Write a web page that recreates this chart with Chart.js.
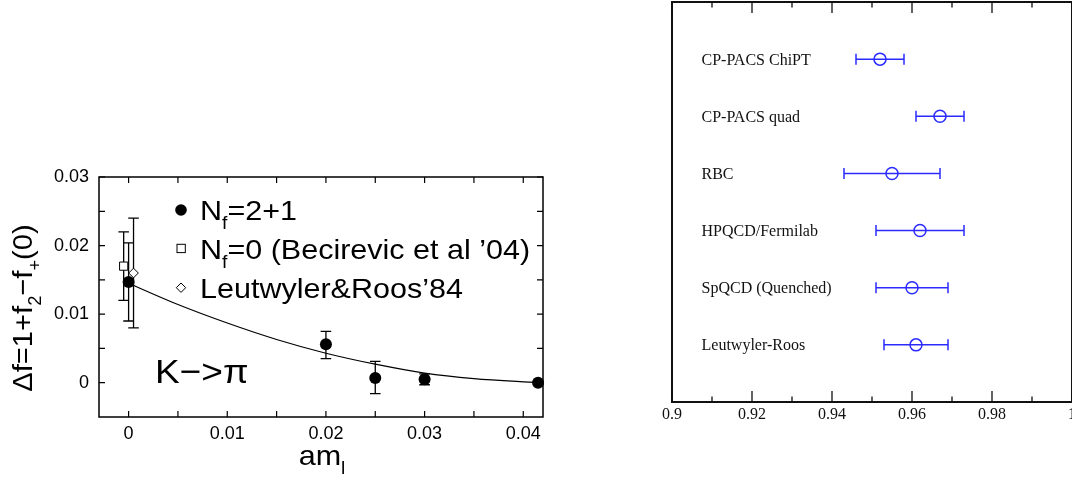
<!DOCTYPE html>
<html>
<head>
<meta charset="utf-8">
<script src="https://cdn.jsdelivr.net/npm/chart.js@4.4.0/dist/chart.umd.min.js"></script>
<style>
  html, body { margin: 0; padding: 0; background: #fff; overflow: hidden; width: 1072px; height: 478px; }
  #leftChart { position: absolute; left: 0; top: 0; }
  #rightChart { position: absolute; left: 620px; top: 0; }
</style>
</head>
<body>
<canvas id="leftChart" width="560" height="478"></canvas>
<canvas id="rightChart" width="480" height="478"></canvas>
<script>
// ---- left panel: K -> pi form factor vs light quark mass ----
const nf21X  = [0, 0.02, 0.025, 0.03, 0.0415];
const nf21Y  = [0.0147, 0.0056, 0.0007, 0.0005, 0.0];
const nf21Lo = [0.009, 0.0035, -0.0016, -0.0003, 0.0];
const nf21Hi = [0.0204, 0.0075, 0.0031, 0.0013, 0.0];

const nf0X  = [-0.0005];
const nf0Y  = [0.017];
const nf0Lo = [0.012];
const nf0Hi = [0.022];

const lrX  = [0.0005];
const lrY  = [0.016];
const lrLo = [0.008];
const lrHi = [0.024];

// fit curve
const fitX = [0, 0.005, 0.01, 0.015, 0.02, 0.025, 0.03, 0.035, 0.0415];
const fitY = [0.0145, 0.0114, 0.0087, 0.0063, 0.0043, 0.0027, 0.0014, 0.0006, 0.0];

const leftXTicks  = [0, 0.01, 0.02, 0.03, 0.04];
const leftXLabels = ['0', '0.01', '0.02', '0.03', '0.04'];
const leftXMinor  = [0.005, 0.015, 0.025, 0.035];
const leftYTicks  = [0, 0.01, 0.02, 0.03];
const leftYLabels = ['0', '0.01', '0.02', '0.03'];
const leftYMinor  = [0.005, 0.015, 0.025];

// ---- right panel: f+(0) results ----
const groups = ['CP-PACS ChiPT', 'CP-PACS quad', 'RBC', 'HPQCD/Fermilab', 'SpQCD (Quenched)', 'Leutwyler-Roos'];
const centralVal = [0.952, 0.967, 0.955, 0.962, 0.960, 0.961];
const lowVal     = [0.946, 0.961, 0.943, 0.951, 0.951, 0.953];
const highVal    = [0.958, 0.973, 0.967, 0.973, 0.969, 0.969];
const rowPos     = [6, 5, 4, 3, 2, 1];

const rightXTicks  = [0.9, 0.92, 0.94, 0.96, 0.98, 1.0];
const rightXLabels = ['0.9', '0.92', '0.94', '0.96', '0.98', '1'];
const rightXMinor  = [0.91, 0.93, 0.95, 0.97, 0.99];

const SANS = "'Liberation Sans', Arial, sans-serif";
const SERIF = "'Liberation Serif', 'Times New Roman', serif";
const BLUE = '#2b2bff';

// text with subscripts, parts = [[text, 'sub'?], ...]
function drawRich(ctx, parts, x, y, size, opt) {
    opt = opt || {};
    ctx.save();
    ctx.translate(x, y);
    if (opt.rot) ctx.rotate(opt.rot);
    ctx.scale(opt.sx || 1, 1);
    ctx.textAlign = 'left';
    ctx.textBaseline = 'alphabetic';
    ctx.fillStyle = '#000';
    let w = 0;
    const items = parts.map(p => {
        const sub = p[1] === 'sub';
        const fs = sub ? size * 0.63 : size;
        ctx.font = fs + 'px ' + SANS;
        const pw = ctx.measureText(p[0]).width;
        w += pw;
        return { t: p[0], fs: fs, sub: sub, pw: pw };
    });
    let cx = opt.center ? -w / 2 : 0;
    items.forEach(it => {
        ctx.font = it.fs + 'px ' + SANS;
        ctx.fillText(it.t, cx, it.sub ? size * 0.33 : 0);
        cx += it.pw;
    });
    ctx.restore();
}

function vErrBar(ctx, xs, ys, x, lo, hi, cap) {
    const px = xs.getPixelForValue(x);
    const p1 = ys.getPixelForValue(lo), p2 = ys.getPixelForValue(hi);
    ctx.beginPath();
    ctx.moveTo(px, p1); ctx.lineTo(px, p2);
    ctx.moveTo(px - cap, p1); ctx.lineTo(px + cap, p1);
    ctx.moveTo(px - cap, p2); ctx.lineTo(px + cap, p2);
    ctx.stroke();
}

const leftDecor = {
    id: 'leftDecor',
    beforeDatasetsDraw(chart) {
        const ctx = chart.ctx, xs = chart.scales.x, ys = chart.scales.y;
        ctx.save();
        ctx.strokeStyle = '#000';
        ctx.lineWidth = 1.3;
        nf0X.forEach((x, i) => vErrBar(ctx, xs, ys, x, nf0Lo[i], nf0Hi[i], 5.3));
        lrX.forEach((x, i) => vErrBar(ctx, xs, ys, x, lrLo[i], lrHi[i], 5.3));
        nf21X.forEach((x, i) => {
            if (nf21Hi[i] - nf21Lo[i] > 0) vErrBar(ctx, xs, ys, x, nf21Lo[i], nf21Hi[i], 5.3);
        });
        ctx.restore();
    },
    afterDatasetsDraw(chart) {
        const ctx = chart.ctx, a = chart.chartArea, xs = chart.scales.x, ys = chart.scales.y;
        ctx.save();
        ctx.strokeStyle = '#000';
        ctx.lineWidth = 1.5;
        ctx.strokeRect(a.left, a.top, a.right - a.left, a.bottom - a.top);
        // inward ticks on all four sides
        ctx.lineWidth = 1.2;
        ctx.beginPath();
        leftXTicks.concat(leftXMinor).forEach(v => {
            const px = xs.getPixelForValue(v);
            ctx.moveTo(px, a.bottom); ctx.lineTo(px, a.bottom - 6);
            ctx.moveTo(px, a.top); ctx.lineTo(px, a.top + 6);
        });
        leftYTicks.concat(leftYMinor).forEach(v => {
            const py = ys.getPixelForValue(v);
            ctx.moveTo(a.left, py); ctx.lineTo(a.left + 6, py);
            ctx.moveTo(a.right, py); ctx.lineTo(a.right - 6, py);
        });
        ctx.stroke();

        // legend
        ctx.lineWidth = 1;
        ctx.fillStyle = '#000';
        ctx.beginPath(); ctx.arc(181, 210, 5.8, 0, Math.PI * 2); ctx.fill();
        ctx.fillStyle = '#fff';
        ctx.fillRect(177, 244.3, 8.3, 8.3);
        ctx.strokeRect(177, 244.3, 8.3, 8.3);
        ctx.beginPath();
        ctx.moveTo(181, 283); ctx.lineTo(185.7, 287.7); ctx.lineTo(181, 292.4); ctx.lineTo(176.3, 287.7);
        ctx.closePath(); ctx.fill(); ctx.stroke();
        ctx.restore();

        drawRich(ctx, [['N'], ['f', 'sub'], ['=2+1']], 200, 220, 28, { sx: 1.09 });
        drawRich(ctx, [['N'], ['f', 'sub'], ['=0 (Becirevic et al \u201904)']], 200, 258.5, 28, { sx: 1.09 });
        drawRich(ctx, [['Leutwyler&Roos\u201984']], 200, 297.5, 28, { sx: 1.09 });

        drawRich(ctx, [['K\u2212>\u03c0']], 155, 383, 34, { sx: 1.09 });

        // axis titles
        drawRich(ctx, [['\u0394f=1+f'], ['2', 'sub'], ['\u2212f'], ['+', 'sub'], ['(0)']], 32, 308, 28,
            { rot: -Math.PI / 2, center: true, sx: 1.04 });
        drawRich(ctx, [['am'], ['l', 'sub']], 322, 465, 28, { center: true, sx: 1.09 });
    }
};

new Chart(document.getElementById('leftChart'), {
    type: 'scatter',
    data: {
        datasets: [
            {
                label: 'fit',
                data: fitX.map((x, i) => ({ x: x, y: fitY[i] })),
                showLine: true,
                borderColor: '#000',
                borderWidth: 1.2,
                pointRadius: 0,
                cubicInterpolationMode: 'monotone',
                clip: false
            },
            {
                label: 'Nf=0',
                data: nf0X.map((x, i) => ({ x: x, y: nf0Y[i] })),
                pointStyle: 'rect',
                pointRadius: 5.8,
                backgroundColor: '#fff',
                borderColor: '#000',
                borderWidth: 1,
                clip: false
            },
            {
                label: 'Leutwyler&Roos',
                data: lrX.map((x, i) => ({ x: x, y: lrY[i] })),
                pointStyle: 'rectRot',
                pointRadius: 4.8,
                backgroundColor: '#fff',
                borderColor: '#000',
                borderWidth: 1,
                clip: false
            },
            {
                label: 'Nf=2+1',
                data: nf21X.map((x, i) => ({ x: x, y: nf21Y[i] })),
                pointStyle: 'circle',
                pointRadius: 6,
                backgroundColor: '#000',
                borderColor: '#000',
                borderWidth: 0,
                clip: false
            }
        ]
    },
    options: {
        responsive: false,
        animation: false,
        devicePixelRatio: 1,
        layout: { autoPadding: false, padding: { left: 0, top: 177, right: 17, bottom: 31 } },
        plugins: { legend: { display: false }, tooltip: { enabled: false } },
        scales: {
            x: {
                type: 'linear',
                min: -0.003,
                max: 0.042,
                afterBuildTicks: s => { s.ticks = leftXTicks.map(v => ({ value: v })); },
                afterFit: s => { s.height = 30; },
                grid: { display: false, drawTicks: false },
                border: { display: false },
                ticks: {
                    autoSkip: false,
                    maxRotation: 0,
                    padding: 6,
                    color: '#000',
                    font: { family: SANS, size: 18 },
                    callback: (v, i) => leftXLabels[i]
                }
            },
            y: {
                type: 'linear',
                min: -0.005,
                max: 0.03,
                afterBuildTicks: s => { s.ticks = leftYTicks.map(v => ({ value: v })); },
                afterFit: s => { s.width = 99; },
                grid: { display: false, drawTicks: false },
                border: { display: false },
                ticks: {
                    autoSkip: false,
                    padding: 10,
                    color: '#000',
                    font: { family: SANS, size: 18 },
                    callback: (v, i) => leftYLabels[i]
                }
            }
        }
    },
    plugins: [leftDecor]
});

const rightDecor = {
    id: 'rightDecor',
    beforeDatasetsDraw(chart) {
        const ctx = chart.ctx, xs = chart.scales.x, ys = chart.scales.y;
        ctx.save();
        ctx.strokeStyle = BLUE;
        ctx.lineWidth = 1.5;
        ctx.beginPath();
        rowPos.forEach((r, i) => {
            const py = ys.getPixelForValue(r);
            const p1 = xs.getPixelForValue(lowVal[i]), p2 = xs.getPixelForValue(highVal[i]);
            ctx.moveTo(p1, py); ctx.lineTo(p2, py);
            ctx.moveTo(p1, py - 5.5); ctx.lineTo(p1, py + 5.5);
            ctx.moveTo(p2, py - 5.5); ctx.lineTo(p2, py + 5.5);
        });
        ctx.stroke();
        ctx.restore();
    },
    afterDatasetsDraw(chart) {
        const ctx = chart.ctx, a = chart.chartArea, xs = chart.scales.x, ys = chart.scales.y;
        ctx.save();
        ctx.strokeStyle = '#111';
        ctx.lineWidth = 2;
        ctx.strokeRect(a.left, a.top, a.right - a.left, a.bottom - a.top);
        ctx.lineWidth = 1.3;
        ctx.beginPath();
        rightXTicks.forEach(v => {
            const px = xs.getPixelForValue(v);
            ctx.moveTo(px, a.bottom); ctx.lineTo(px, a.bottom - 11);
            ctx.moveTo(px, a.top); ctx.lineTo(px, a.top + 11);
        });
        rightXMinor.forEach(v => {
            const px = xs.getPixelForValue(v);
            ctx.moveTo(px, a.bottom); ctx.lineTo(px, a.bottom - 5.5);
            ctx.moveTo(px, a.top); ctx.lineTo(px, a.top + 5.5);
        });
        ctx.stroke();

        ctx.fillStyle = '#111';
        ctx.font = '16px ' + SERIF;
        ctx.textAlign = 'left';
        ctx.textBaseline = 'alphabetic';
        groups.forEach((g, i) => {
            ctx.fillText(g, a.left + 29.5, ys.getPixelForValue(rowPos[i]) + 5.5);
        });
        ctx.restore();
    }
};

new Chart(document.getElementById('rightChart'), {
    type: 'scatter',
    data: {
        datasets: [{
            label: 'f+(0)',
            data: rowPos.map((r, i) => ({ x: centralVal[i], y: r })),
            pointStyle: 'circle',
            pointRadius: 6,
            backgroundColor: 'rgba(0,0,0,0)',
            borderColor: BLUE,
            borderWidth: 1.5,
            clip: false
        }]
    },
    options: {
        responsive: false,
        animation: false,
        devicePixelRatio: 1,
        layout: { autoPadding: false, padding: { left: 52, top: 2, right: 28, bottom: 46 } },
        plugins: { legend: { display: false }, tooltip: { enabled: false } },
        scales: {
            x: {
                type: 'linear',
                min: 0.9,
                max: 1.0,
                afterBuildTicks: s => { s.ticks = rightXTicks.map(v => ({ value: v })); },
                afterFit: s => { s.height = 30; },
                grid: { display: false, drawTicks: false },
                border: { display: false },
                ticks: {
                    autoSkip: false,
                    maxRotation: 0,
                    padding: 3,
                    color: '#111',
                    font: { family: SERIF, size: 16 },
                    callback: (v, i) => rightXLabels[i]
                }
            },
            y: {
                type: 'linear',
                min: 0,
                max: 7,
                display: false
            }
        }
    },
    plugins: [rightDecor]
});
</script>
</body>
</html>
